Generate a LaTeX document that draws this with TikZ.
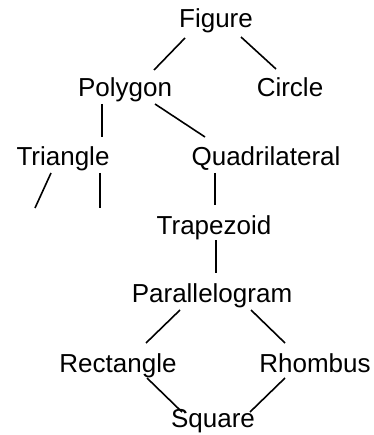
\documentclass[tikz,border=0pt]{standalone}
\usepackage{fontspec}
\setmainfont{Liberation Sans}
\usetikzlibrary{calc}
\begin{document}
\begin{tikzpicture}[x=1pt,y=-1pt,
  lbl/.style={inner sep=0pt,anchor=base,font=\fontsize{26}{30}\selectfont},
  conn/.style={line width=1.6pt}]
\useasboundingbox (0,0) rectangle (373,435);
\node[lbl] (fig) at (216,28) {Figure};
\node[lbl] (pol) at (125,97) {Polygon};
\node[lbl] (cir) at (290,97) {Circle};
\node[lbl] (tri) at (63,166) {Triangle};
\node[lbl] (qua) at (266,166) {Quadrilateral};
\node[lbl] (tra) at (214,234) {Trapezoid};
\node[lbl] (par) at (212,302) {Parallelogram};
\node[lbl] (rec) at (118,372) {Rectangle};
\node[lbl] (rho) at (315,372) {Rhombus};
\node[lbl] (squ) at (213,427) {Square};
\coordinate (freeA) at (35,208);
\coordinate (freeB) at (100,208);
\draw[conn] ($(fig.base)+(-31,10)$) -- ($(pol.base)+(29,-27)$);
\draw[conn] ($(fig.base)+(25,9)$) -- ($(cir.base)+(-14,-28)$);
\draw[conn] ($(pol.base)+(-23,7)$) -- ($(tri.base)+(39,-29)$);
\draw[conn] ($(pol.base)+(30,7)$) -- ($(qua.base)+(-61,-29)$);
\draw[conn] ($(tri.base)+(-12,7)$) -- (freeA);
\draw[conn] ($(tri.base)+(37,7)$) -- (freeB);
\draw[conn] ($(qua.base)+(-51,7)$) -- ($(tra.base)+(1,-29)$);
\draw[conn] ($(tra.base)+(2,6)$) -- ($(par.base)+(4,-29)$);
\draw[conn] ($(par.base)+(-32,8)$) -- ($(rec.base)+(28,-29)$);
\draw[conn] ($(par.base)+(39,8)$) -- ($(rho.base)+(-30,-29)$);
\draw[conn] ($(rec.base)+(29,6)$) -- ($(squ.base)+(-31,-15)$);
\draw[conn] ($(rho.base)+(-30,6)$) -- ($(squ.base)+(37,-15)$);
\end{tikzpicture}
\end{document}
